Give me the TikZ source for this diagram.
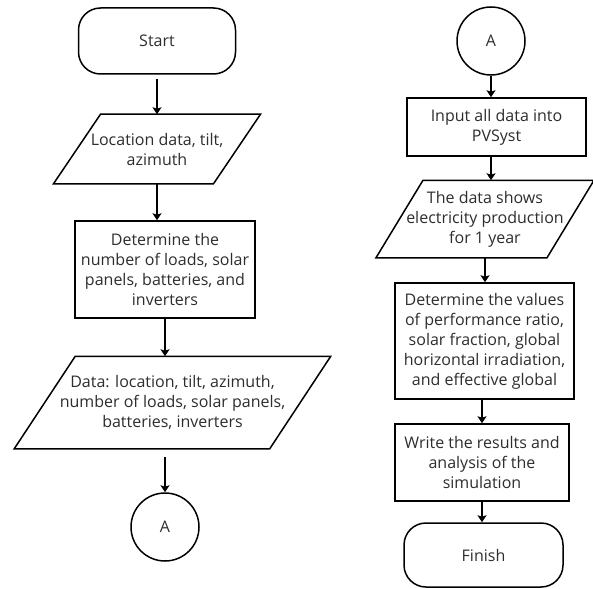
\documentclass[tikz,border=0pt]{standalone}
\usepackage{fontspec}
\setmainfont{Open Sans}
\usetikzlibrary{positioning, arrows.meta}
\definecolor{txtgray}{RGB}{45,45,45}
% slanted outline round an io node, #2 = half the slant
\newcommand{\slantbox}[2]{%
  \draw[line width=1.5pt] ([xshift=#2]#1.north west) -- ([xshift=#2]#1.north east)
    -- ([xshift=-#2]#1.south east) -- ([xshift=-#2]#1.south west) -- cycle;}

\begin{document}
\begin{tikzpicture}[
  x=1pt, y=-1pt,
  font=\fontsize{16}{20}\selectfont,
  base/.style={draw=black, line width=1.5pt, text=txtgray, align=center, inner sep=0pt},
  term/.style={base, rounded corners=22pt},
  procbox/.style={base},
  io/.style={base, draw=none},
  conn/.style={base, circle, minimum size=68pt},
  arr/.style={-{Stealth[length=7pt, width=9pt, inset=1.5pt]}, line width=1.5pt},
]
\useasboundingbox (0,0) rectangle (593,588);

% left column
\node[term, minimum width=157pt, minimum height=66pt] (start) at (157,41) {Start};
\node[io, minimum width=158.5pt, minimum height=68pt] (loc) at (157,149) {Location data, tilt,\\ azimuth};
\slantbox{loc}{23.5pt}
\node[procbox, minimum width=180pt, minimum height=97pt] (det) at (165,269.5)
  {Determine the\\ number of loads, solar\\ panels, batteries, and\\ inverters};
\node[io, minimum width=254pt, minimum height=91pt] (data) at (172.5,402.5)
  {Data: location, tilt, azimuth,\\ number of loads, solar panels,\\ batteries, inverters};
\slantbox{data}{30.5pt}
\node[conn] (conA) at (165,527) {A};

\draw[arr, shorten <=4pt] (start) -- (start |- loc.north);
\draw[arr] (loc.south) -- (loc.south |- det.north);
\draw[arr] (det.south) -- (det.south |- data.north);
\draw[arr, shorten <=8pt] (conA |- data.south) -- (conA);

% right column
\node[conn] (conB) at (491,41) {A};
\node[procbox, minimum width=179pt, minimum height=58pt] (input) at (496.5,127) {Input all data into\\ PVSyst};
\node[io, minimum width=169.5pt, minimum height=76pt] (shows) at (485,219)
  {The data shows\\ electricity production\\ for 1 year};
\slantbox{shows}{23.5pt}
\node[procbox, minimum width=179pt, minimum height=116pt] (values) at (484.5,341)
  {Determine the values\\ of performance ratio,\\ solar fraction, global\\ horizontal irradiation,\\ and effective global};
\node[procbox, minimum width=174pt, minimum height=77pt] (write) at (482,462.5)
  {Write the results and\\ analysis of the\\ simulation};
\node[term, minimum width=159pt, minimum height=64pt] (finish) at (483.5,555) {Finish};

\draw[arr] (conB) -- (conB |- input.north);
\draw[arr] (conB |- input.south) -- (conB |- shows.north);
\draw[arr] (shows.south) -- (shows.south |- values.north);
\draw[arr] (write |- values.south) -- (write.north);
\draw[arr] (write.south) -- (write.south |- finish.north);
\end{tikzpicture}
\end{document}
